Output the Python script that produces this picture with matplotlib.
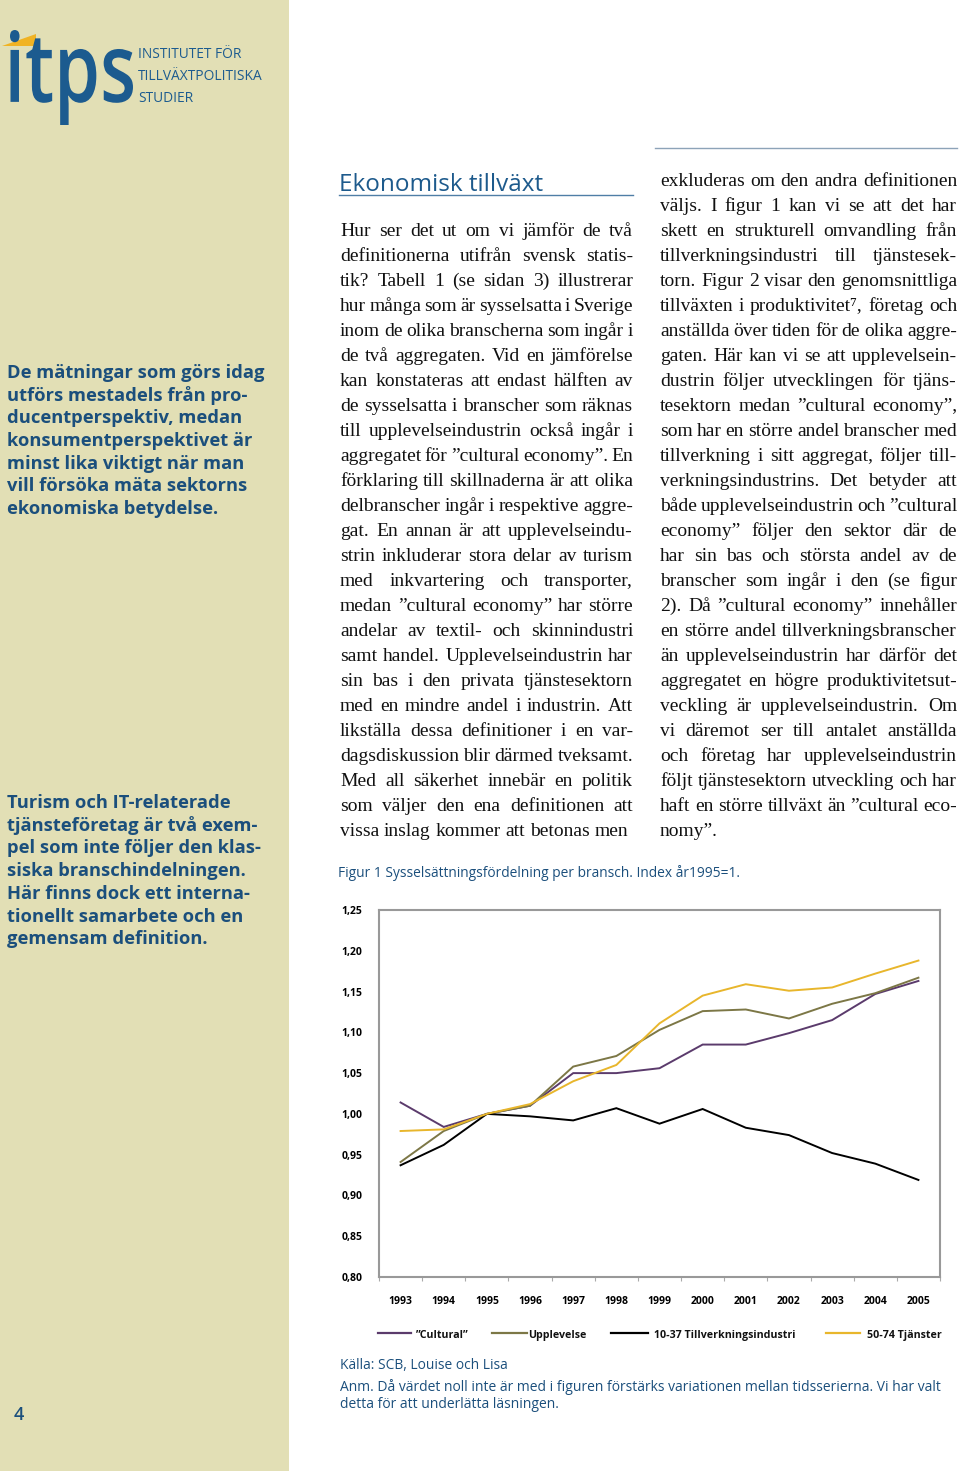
import matplotlib
matplotlib.use("Agg")
import matplotlib.pyplot as plt
from matplotlib.lines import Line2D
from matplotlib.patches import Rectangle, Polygon, PathPatch
from matplotlib.textpath import TextPath
from matplotlib.font_manager import FontProperties
from matplotlib.transforms import Affine2D
import numpy as np

# ---------------- data ----------------
years = ["1993", "1994", "1995", "1996", "1997", "1998", "1999",
         "2000", "2001", "2002", "2003", "2004", "2005"]
cultural = [1.014, 0.984, 1.000, 1.010, 1.050, 1.050, 1.056, 1.085, 1.085, 1.099, 1.115, 1.147, 1.163]
upplevelse = [0.941, 0.979, 1.000, 1.010, 1.058, 1.071, 1.103, 1.126, 1.128, 1.117, 1.135, 1.148, 1.167]
tillverkning = [0.937, 0.962, 1.000, 0.997, 0.992, 1.007, 0.988, 1.006, 0.983, 0.974, 0.952, 0.939, 0.919]
tjanster = [0.979, 0.981, 1.000, 1.012, 1.040, 1.060, 1.111, 1.145, 1.159, 1.151, 1.155, 1.172, 1.188]
series_names = ["\u201dCultural\u201d", "Upplevelse", "10-37 Tillverkningsindustri", "50-74 Tj\u00e4nster"]
y_ticks = [0.80, 0.85, 0.90, 0.95, 1.00, 1.05, 1.10, 1.15, 1.20, 1.25]

col1_lines = [
    "Hur ser det ut om vi jämför de två",
    "definitionerna utifrån svensk statis-",
    "tik? Tabell 1 (se sidan 3) illustrerar",
    "hur många som är sysselsatta i Sverige",
    "inom de olika branscherna som ingår i",
    "de två aggregaten. Vid en jämförelse",
    "kan konstateras att endast hälften av",
    "de sysselsatta i branscher som räknas",
    "till upplevelseindustrin också ingår i",
    "aggregatet för \u201dcultural economy\u201d. En",
    "förklaring till skillnaderna är att olika",
    "delbranscher ingår i respektive aggre-",
    "gat. En annan är att upplevelseindu-",
    "strin inkluderar stora delar av turism",
    "med inkvartering och transporter,",
    "medan \u201dcultural economy\u201d har större",
    "andelar av textil- och skinnindustri",
    "samt handel. Upplevelseindustrin har",
    "sin bas i den privata tjänstesektorn",
    "med en mindre andel i industrin. Att",
    "likställa dessa definitioner i en var-",
    "dagsdiskussion blir därmed tveksamt.",
    "Med all säkerhet innebär en politik",
    "som väljer den ena definitionen att",
    "vissa inslag kommer att betonas men",
]
col2_lines = [
    "exkluderas om den andra definitionen",
    "väljs. I figur 1 kan vi se att det har",
    "skett en strukturell omvandling från",
    "tillverkningsindustri till tjänstesek-",
    "torn. Figur 2 visar den genomsnittliga",
    "tillväxten i produktivitet\u2077, företag och",
    "anställda över tiden för de olika aggre-",
    "gaten. Här kan vi se att upplevelsein-",
    "dustrin följer utvecklingen för tjäns-",
    "tesektorn medan \u201dcultural economy\u201d,",
    "som har en större andel branscher med",
    "tillverkning i sitt aggregat, följer till-",
    "verkningsindustrins. Det betyder att",
    "både upplevelseindustrin och \u201dcultural",
    "economy\u201d följer den sektor där de",
    "har sin bas och största andel av de",
    "branscher som ingår i den (se figur",
    "2). Då \u201dcultural economy\u201d innehåller",
    "en större andel tillverkningsbranscher",
    "än upplevelseindustrin har därför det",
    "aggregatet en högre produktivitetsut-",
    "veckling är upplevelseindustrin. Om",
    "vi däremot ser till antalet anställda",
    "och företag har upplevelseindustrin",
    "följt tjänstesektorn utveckling och har",
    "haft en större tillväxt än \u201dcultural eco-",
    "nomy\u201d.",
]
side1 = ["De mätningar som görs idag", "utförs mestadels från pro-",
         "ducentperspektiv, medan", "konsumentperspektivet är",
         "minst lika viktigt när man", "vill försöka mäta sektorns",
         "ekonomiska betydelse."]
side2 = ["Turism och IT-relaterade", "tjänsteföretag är två exem-",
         "pel som inte följer den klas-", "siska branschindelningen.",
         "Här finns dock ett interna-", "tionellt samarbete och en",
         "gemensam definition."]

# ---------------- figure ----------------
W, H = 960, 1471
fig = plt.figure(figsize=(W / 100, H / 100), dpi=100)
fig.patch.set_facecolor("white")
renderer = fig.canvas.get_renderer()

def fx(x):
    return x / W

def fy(y):
    return 1 - y / H

BLUE = "#1b4f7c"
SERIF = ["Liberation Serif", "DejaVu Serif"]
SANS = ["Open Sans", "DejaVu Sans"]

# sidebar
fig.patches.append(Rectangle((0, 0), fx(289), 1, transform=fig.transFigure,
                             facecolor="#e2dfb5", edgecolor="none", zorder=0))

# logo: "itps" glyphs stretched into the logo box
tp = TextPath((0, 0), "itps", size=1, prop=FontProperties(family="Open Sans", weight="semibold"))
ext = tp.get_extents()
bx0, bx1, by_top, by_bot = 10, 133, 30, 125
sx = (fx(bx1) - fx(bx0)) / ext.width
sy = (fy(by_top) - fy(by_bot)) / ext.height
tr = Affine2D().translate(-ext.x0, -ext.y0).scale(sx, sy).translate(fx(bx0), fy(by_bot))
fig.patches.append(PathPatch(tp, transform=tr + fig.transFigure, facecolor="#1c5b8f",
                             edgecolor="none", zorder=2))
fig.patches.append(Polygon([(fx(2), fy(46)), (fx(36), fy(34)), (fx(36), fy(46))],
                           closed=True, transform=fig.transFigure,
                           facecolor="#f0b323", edgecolor="none", zorder=1))
for i, s in enumerate(["INSTITUTET FÖR", "TILLVÄXTPOLITISKA", "STUDIER"]):
    fig.text(fx(138), fy(58 + 22 * i), s, fontsize=9.9, family=SANS, color="#1c5b8f",
             va="baseline", ha="left")

# sidebar texts
for i, s in enumerate(side1):
    fig.text(fx(7), fy(378 + 22.7 * i), s, fontsize=13.2, family=SANS, color=BLUE,
             fontweight="bold", va="baseline", ha="left")
for i, s in enumerate(side2):
    fig.text(fx(7), fy(808 + 22.7 * i), s, fontsize=13.2, family=SANS, color=BLUE,
             fontweight="bold", va="baseline", ha="left")
fig.text(fx(14), fy(1420), "4", fontsize=13, family=SANS, color=BLUE,
         va="baseline", ha="left", fontweight="semibold")

# heading
fig.text(fx(339), fy(191), "Ekonomisk tillväxt", fontsize=17.5, family=SANS,
         color="#1d5a8c", va="baseline", ha="left")
fig.add_artist(Line2D([fx(339), fx(633)], [fy(194.5), fy(194.5)], color="#4f7ea6", lw=1.0))
fig.add_artist(Line2D([fx(655), fx(957)], [fy(147.5), fy(147.5)], color="#8da3b8", lw=1.0))


def justify(lines, x0, x1, base0, dy, fontsize):
    sp = fig.text(0, 0, "a a", fontsize=fontsize, family=SERIF)
    nsp = fig.text(0, 0, "aa", fontsize=fontsize, family=SERIF)
    space_w = sp.get_window_extent(renderer).width - nsp.get_window_extent(renderer).width
    sp.remove(); nsp.remove()
    for i, line in enumerate(lines):
        y = base0 + i * dy
        words = line.split()
        ts = [fig.text(0, fy(y), w, fontsize=fontsize, family=SERIF, color="#111111",
                       va="baseline", ha="left") for w in words]
        widths = [t.get_window_extent(renderer).width for t in ts]
        total = sum(widths)
        last = (i == len(lines) - 1)
        if len(words) > 1 and not last:
            gap = (x1 - x0 - total) / (len(words) - 1)
        else:
            gap = space_w
        x = x0
        for t, w in zip(ts, widths):
            t.set_x(fx(x))
            x += w + gap

justify(col1_lines, 340, 633, 236, 25, 14.0)
justify(col2_lines, 660, 957, 186, 25, 14.0)

# captions
fig.text(fx(338), fy(877), "Figur 1 Sysselsättningsfördelning per bransch. Index år1995=1.",
         fontsize=9.9, family=SANS, color=BLUE, va="baseline", ha="left")
fig.text(fx(340), fy(1369), "Källa: SCB, Louise och Lisa",
         fontsize=9.9, family=SANS, color=BLUE, va="baseline", ha="left")
fig.text(fx(340), fy(1391), "Anm. Då värdet noll inte är med i figuren förstärks variationen mellan tidsserierna. Vi har valt",
         fontsize=10, family=SANS, color=BLUE, va="baseline", ha="left")
fig.text(fx(340), fy(1408), "detta för att underlätta läsningen.",
         fontsize=10, family=SANS, color=BLUE, va="baseline", ha="left")

# ---------------- chart ----------------
ax = fig.add_axes([fx(379), 1 - 1277 / H, 561 / W, 367 / H])
colors = ["#5b3b6c", "#7c7746", "#000000", "#e8b62c"]
data = [cultural, upplevelse, tillverkning, tjanster]
x = np.arange(len(years))
for vals, c in zip(data, colors):
    ax.plot(x, vals, color=c, lw=1.4, solid_joinstyle="miter")

ax.set_xlim(-0.5, len(years) - 0.5)
ax.set_ylim(0.80, 1.25)
ax.set_yticks(y_ticks)
ax.set_yticklabels([f"{v:.2f}".replace(".", ",") for v in y_ticks])
ax.set_xticks(x)
ax.set_xticklabels(years)
ax.set_xticks(np.arange(len(years) + 1) - 0.5, minor=True)
ax.tick_params(axis="x", which="major", length=0, pad=14)
ax.tick_params(axis="x", which="minor", length=3, color="#aaaaaa", width=0.8)
ax.tick_params(axis="y", length=0, pad=12)
for lab in ax.get_xticklabels() + ax.get_yticklabels():
    lab.set_fontsize(7.5)
    lab.set_fontweight("bold")
    lab.set_family(SANS)
for s in ax.spines.values():
    s.set_color("#999999")
    s.set_linewidth(1.5)
ax.set_facecolor("white")

# legend (manual placement)
leg_line = [(378, 411), (492, 527), (611, 648), (826, 860)]
leg_text = [416, 528, 654, 867]
for (a, b), tx, c, name in zip(leg_line, leg_text, colors, series_names):
    fig.add_artist(Line2D([fx(a), fx(b)], [fy(1333), fy(1333)], color=c, lw=1.6))
    fig.text(fx(tx), fy(1338), name, fontsize=7.7, fontweight="bold", family=SANS,
             color="#111111", va="baseline", ha="left")

fig.savefig("out.png", dpi=100, facecolor="white")
